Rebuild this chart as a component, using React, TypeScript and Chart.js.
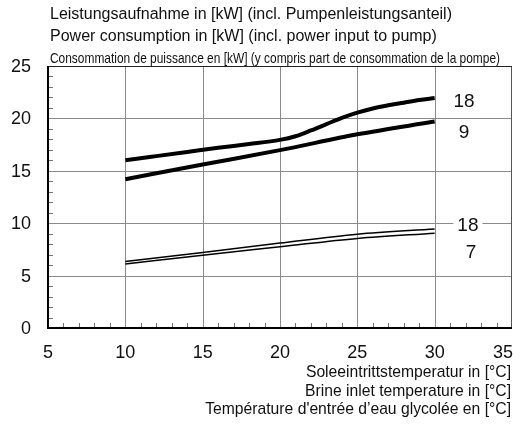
import { useEffect, useRef } from "react";
import { Chart, registerables } from "chart.js";
Chart.register(...registerables);

const temps = [10, 15, 20, 25, 30];
const topTemps = [10, 12, 14, 16, 18, 20, 21, 22, 23, 24, 25, 26, 27, 28, 29, 30];
const power18Heavy = [16.0, 16.4, 16.8, 17.2, 17.55, 17.95, 18.3, 18.85, 19.45, 20.05, 20.55, 20.95, 21.25, 21.5, 21.75, 21.95];
const power9Heavy = [14.2, 15.6, 16.97, 18.48, 19.7];
const power18Light = [6.35, 7.2, 8.1, 8.95, 9.45];
const power7Light = [6.1, 6.95, 7.75, 8.55, 9.05];
const xTicks = [5, 10, 15, 20, 25, 30, 35];
const yTicks = [0, 5, 10, 15, 20, 25];
const curveLabels = [
  { text: "18", x: 31.9, y: 21.7 },
  { text: "9", x: 31.9, y: 18.73 },
  { text: "18", x: 32.15, y: 9.83 },
  { text: "7", x: 32.35, y: 7.28 },
];
const titleLines = [
  "Leistungsaufnahme in [kW] (incl. Pumpenleistungsanteil)",
  "Power consumption in [kW] (incl. power input to pump)",
  "Consommation de puissance en [kW] (y compris part de consommation de la pompe)",
];
const xTitleLines = [
  "Soleeintrittstemperatur in [°C]",
  "Brine inlet temperature in [°C]",
  "Température d'entrée d’eau glycolée en [°C]",
];

const FONT = '"Liberation Sans", Arial, Helvetica, sans-serif';

const pts = (xs: number[], ys: number[]) => xs.map((x, i) => ({ x, y: ys[i] }));

const drawPlugin = {
  id: "custom",
  beforeDatasetsDraw(chart: any) {
    const { ctx, chartArea: a, scales } = chart;
    const xs = scales.x, ys = scales.y;
    ctx.save();
    ctx.strokeStyle = "#8a8a8a";
    ctx.lineWidth = 1;
    for (let v = 10; v < 35; v += 5) {
      const px = Math.round(xs.getPixelForValue(v)) + 0.5;
      ctx.beginPath(); ctx.moveTo(px, a.top); ctx.lineTo(px, a.bottom); ctx.stroke();
    }
    for (let v = 5; v < 25; v += 5) {
      const py = Math.round(ys.getPixelForValue(v)) + 0.5;
      ctx.beginPath(); ctx.moveTo(a.left, py); ctx.lineTo(a.right, py); ctx.stroke();
    }
    ctx.strokeStyle = "#777";
    for (let v = 6; v < 35; v++) {
      if (v % 5 === 0) continue;
      const px = Math.round(xs.getPixelForValue(v)) + 0.5;
      ctx.beginPath(); ctx.moveTo(px, a.bottom); ctx.lineTo(px, a.bottom - 5); ctx.stroke();
    }
    for (let v = 1; v < 25; v++) {
      if (v % 5 === 0) continue;
      const py = Math.round(ys.getPixelForValue(v)) + 0.5;
      ctx.beginPath(); ctx.moveTo(a.left, py); ctx.lineTo(a.left + 5, py); ctx.stroke();
    }
    ctx.strokeStyle = "#555";
    ctx.beginPath(); ctx.moveTo(a.right - 0.5, a.top); ctx.lineTo(a.right - 0.5, a.bottom); ctx.stroke();
    ctx.strokeStyle = "#222";
    ctx.beginPath(); ctx.moveTo(a.left, a.top + 0.5); ctx.lineTo(a.right, a.top + 0.5); ctx.stroke();
    ctx.strokeStyle = "#000";
    ctx.lineWidth = 2;
    ctx.beginPath(); ctx.moveTo(a.left, a.top); ctx.lineTo(a.left, a.bottom); ctx.lineTo(a.right, a.bottom); ctx.stroke();
    ctx.restore();
  },
  afterDatasetsDraw(chart: any) {
    const { ctx, scales } = chart;
    const xs = scales.x, ys = scales.y;
    ctx.save();
    ctx.font = `19px ${FONT}`;
    ctx.textAlign = "center";
    ctx.textBaseline = "middle";
    for (const l of curveLabels) {
      const px = xs.getPixelForValue(l.x);
      const py = ys.getPixelForValue(l.y);
      const w = ctx.measureText(l.text).width + 8;
      ctx.fillStyle = "#fff";
      ctx.fillRect(px - w / 2, py - 9, w, 18);
      ctx.fillStyle = "#111";
      ctx.fillText(l.text, px, py + 1);
    }
    ctx.restore();
  },
  afterDraw(chart: any) {
    const { ctx, chartArea: a, scales } = chart;
    const xs = scales.x, ys = scales.y;
    ctx.save();
    ctx.fillStyle = "#111";
    ctx.font = `18px ${FONT}`;
    ctx.textBaseline = "middle";
    ctx.textAlign = "right";
    for (const v of yTicks) {
      ctx.fillText(String(v), 31, ys.getPixelForValue(v) + 1);
    }
    ctx.textAlign = "center";
    for (const v of xTicks) {
      const t = String(v);
      let px = xs.getPixelForValue(v);
      const w = ctx.measureText(t).width;
      if (px + w / 2 > chart.width) px = chart.width - w / 2;
      ctx.fillText(t, px, a.bottom + 25);
    }
    ctx.textAlign = "left";
    ctx.font = `16px ${FONT}`;
    ctx.fillText(titleLines[0], 50, 15);
    ctx.fillText(titleLines[1], 50, 37);
    ctx.save();
    ctx.font = `15px ${FONT}`;
    const w3 = ctx.measureText(titleLines[2]).width;
    ctx.translate(50, 59);
    ctx.scale(450 / w3, 1);
    ctx.fillText(titleLines[2], 0, 0);
    ctx.restore();
    ctx.textAlign = "right";
    ctx.font = `15.7px ${FONT}`;
    ctx.fillText(xTitleLines[0], 511, 373);
    ctx.fillText(xTitleLines[1], 511, 392);
    ctx.fillText(xTitleLines[2], 511, 410);
    ctx.restore();
  },
};

export default function App() {
  const ref = useRef<HTMLCanvasElement>(null);
  useEffect(() => {
    document.body.style.margin = "0";
    const heavy = { borderColor: "#000", borderWidth: 4, pointRadius: 0, fill: false, cubicInterpolationMode: "monotone" as const };
    const light = { borderColor: "#000", borderWidth: 1.5, pointRadius: 0, fill: false, cubicInterpolationMode: "monotone" as const };
    const chart = new Chart(ref.current!, {
      type: "line",
      data: {
        datasets: [
          { label: "18 heavy", data: pts(topTemps, power18Heavy), ...heavy },
          { label: "9 heavy", data: pts(temps, power9Heavy), ...heavy },
          { label: "18 light", data: pts(temps, power18Light), ...light },
          { label: "7 light", data: pts(temps, power7Light), ...light },
        ],
      },
      options: {
        animation: false,
        responsive: false,
        layout: { padding: { left: 48, top: 66, right: 1, bottom: 98 } },
        plugins: { legend: { display: false }, tooltip: { enabled: false } },
        scales: {
          x: { type: "linear", min: 5, max: 35, display: false },
          y: { type: "linear", min: 0, max: 25, display: false },
        },
      },
      plugins: [drawPlugin],
    });
    return () => chart.destroy();
  }, []);
  return (
    <div style={{ width: 513, height: 426 }}>
      <canvas ref={ref} width={513} height={426} />
    </div>
  );
}
